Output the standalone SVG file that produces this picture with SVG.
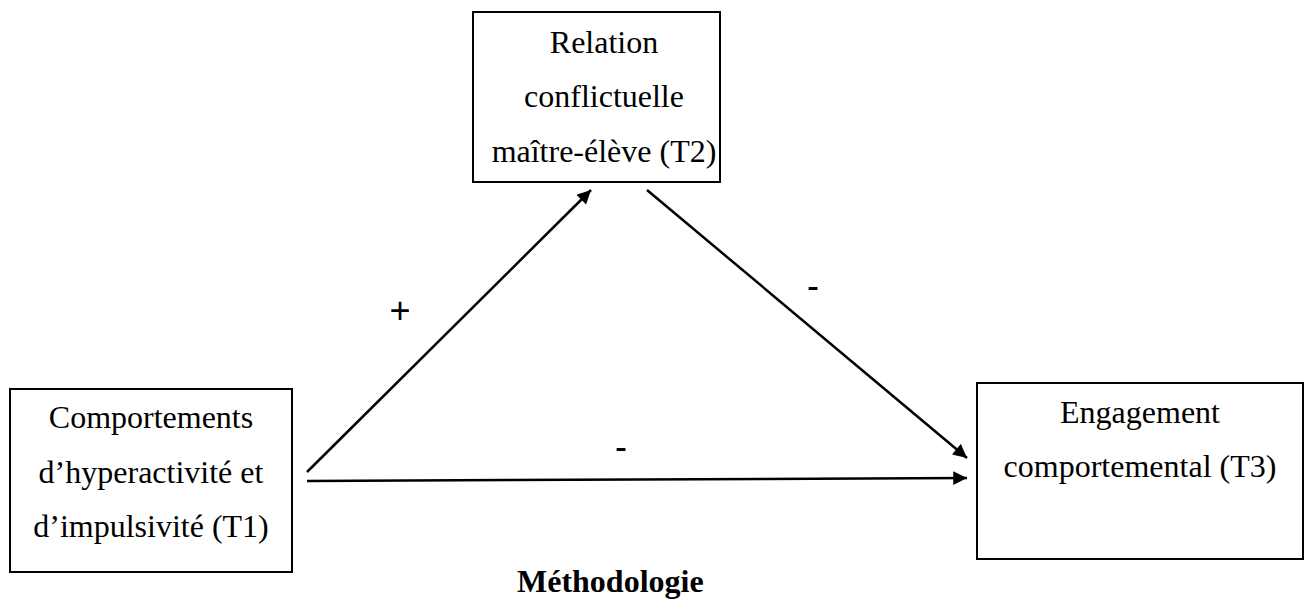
<svg xmlns="http://www.w3.org/2000/svg" width="1311" height="599" viewBox="0 0 1311 599">
<style>
.box{fill:#fff;stroke:#000;stroke-width:2}
.t{font-family:"Liberation Serif","Times New Roman",serif;font-size:32px;fill:#000;text-anchor:middle}
.sign{font-family:"Liberation Sans",Arial,sans-serif;font-size:36px;fill:#000;text-anchor:middle}
.conn{stroke:#000;stroke-width:2.5;fill:none;marker-end:url(#ah)}
.title{font-family:"Liberation Serif","Times New Roman",serif;font-size:32px;font-weight:bold;fill:#000}
</style>
<defs>
<marker id="ah" viewBox="0 0 10 10" refX="10" refY="5" markerWidth="6" markerHeight="5.5" markerUnits="strokeWidth" orient="auto">
<path d="M0,0 L10,5 L0,10 z" fill="#000"/>
</marker>
</defs>
<rect width="1311" height="599" fill="#fff"/>
<g id="connectors">
<line class="conn" x1="307" y1="472" x2="591" y2="190"/>
<line class="conn" x1="647" y1="190" x2="967" y2="458"/>
<line class="conn" x1="307" y1="481" x2="967" y2="478"/>
<text class="sign" x="400" y="323">+</text>
<text class="sign" x="813" y="298">-</text>
<text class="sign" x="621" y="459">-</text>
</g>
<g id="node-t2">
<rect class="box" x="473" y="12" width="247" height="170"/>
<text class="t" x="604" y="53">Relation</text>
<text class="t" x="604" y="107">conflictuelle</text>
<text class="t" x="604" y="162">maître-élève (T2)</text>
</g>
<g id="node-t1">
<rect class="box" x="10" y="389" width="282" height="183"/>
<text class="t" x="151" y="428">Comportements</text>
<text class="t" x="151" y="483">d’hyperactivité et</text>
<text class="t" x="151" y="537">d’impulsivité (T1)</text>
</g>
<g id="node-t3">
<rect class="box" x="977" y="383" width="326" height="176"/>
<text class="t" x="1140" y="423">Engagement</text>
<text class="t" x="1140" y="477">comportemental (T3)</text>
</g>
<g id="caption">
<text class="title" x="517" y="592">Méthodologie</text>
</g>
</svg>
